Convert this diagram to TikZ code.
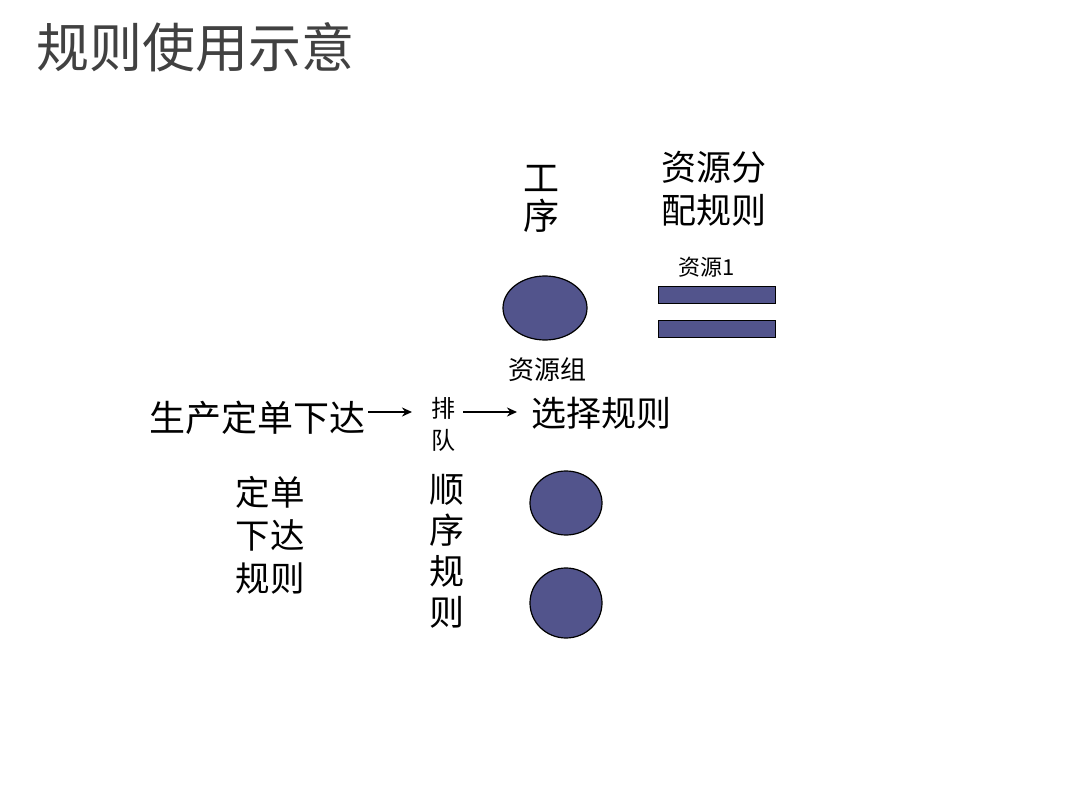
\documentclass[tikz,border=0pt]{standalone}
\usepackage{fontspec}
\usetikzlibrary{arrows.meta,shapes.geometric}
\newfontfamily\cjk{Noto Sans CJK SC}
\definecolor{res}{RGB}{82,84,140}
\definecolor{titlegray}{RGB}{65,65,65}
\tikzset{
  lbl/.style={font=\cjk, inner sep=0pt, anchor=center, text=black},
  blob/.style={draw=black, line width=1.2pt, fill=res},
  bar/.style={draw=black, line width=0.8pt, fill=res},
  arr/.style={-{Stealth[length=10pt,width=9pt]}, line width=2pt}
}
\begin{document}
\begin{tikzpicture}[x=1pt,y=-1pt]
\useasboundingbox (0,0) rectangle (1080,810);
\node[lbl, anchor=west, text=titlegray, font=\cjk\fontsize{53}{56}\selectfont] (title) at (36,47) {规则使用示意};
% top labels
\node[lbl, font=\cjk\fontsize{36}{38}\selectfont, align=center] (proc) at (541,199) {工\\序};
\node[lbl, font=\cjk\fontsize{35}{43}\selectfont, align=left] (alloc) at (714,189) {资源分\\配规则};
\node[lbl, font=\cjk\fontsize{22}{24}\selectfont] (res1) at (707,267) {资源1};
% resource group ellipse
\node[blob, ellipse, minimum width=84pt, minimum height=64pt, inner sep=0pt] (grp) at (545,308) {};
\node[lbl, font=\cjk\fontsize{26}{28}\selectfont] (grplbl) at (547,370) {资源组};
% resource bars
\node[bar, rectangle, minimum width=117pt, minimum height=17pt, inner sep=0pt] (bar1) at (716.5,294.5) {};
\node[bar, rectangle, minimum width=117pt, minimum height=17pt, inner sep=0pt] (bar2) at (716.5,328.5) {};
% main flow
\node[lbl, font=\cjk\fontsize{36}{40}\selectfont, anchor=east] (order) at (366,418) {生产定单下达};
\node[lbl, font=\cjk\fontsize{24}{32}\selectfont, align=center] (queue) at (443,424) {排\\队};
\node[lbl, font=\cjk\fontsize{35}{40}\selectfont, anchor=west] (select) at (531,413) {选择规则};
\coordinate (a1s) at (368,412);
\coordinate (a1e) at (412,412);
\coordinate (a2s) at (463,412);
\coordinate (a2e) at (517,412);
\draw[arr] (a1s) -- (a1e);
\draw[arr] (a2s) -- (a2e);
% lower labels
\node[lbl, font=\cjk\fontsize{34.5}{43}\selectfont, align=left] (rel) at (270,535) {定单\\下达\\规则};
\node[lbl, font=\cjk\fontsize{35}{41}\selectfont, align=center] (seq) at (447,551) {顺\\序\\规\\则};
% circles
\node[blob, ellipse, minimum width=72pt, minimum height=64pt, inner sep=0pt] (c2) at (566,503) {};
\node[blob, ellipse, minimum width=72pt, minimum height=70pt, inner sep=0pt] (c3) at (566,603) {};
\end{tikzpicture}
\end{document}
